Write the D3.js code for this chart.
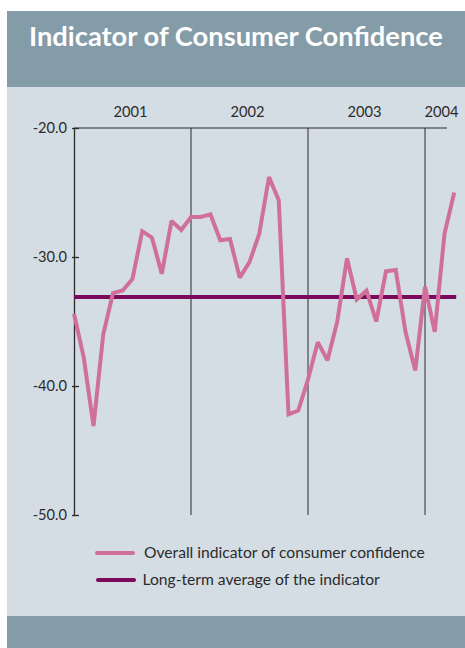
<!DOCTYPE html>
<html>
<head>
<meta charset="utf-8">
<script src="https://cdn.jsdelivr.net/npm/d3@7"></script>
<style>
  html, body { margin: 0; padding: 0; background: #ffffff; }
  svg { display: block; }
</style>
</head>
<body>
<svg id="chart" width="465" height="648"></svg>
<script>
// Monthly index values, January 2001 through April 2004
const months = d3.range(40);
const confidence = [
  -34.4, -37.8, -43.1, -36.0, -32.8, -32.6, -31.7, -28.0, -28.5, -31.3, -27.2, -27.9,
  -26.9, -26.9, -26.7, -28.7, -28.6, -31.6, -30.4, -28.2, -23.8, -25.6, -42.2, -41.9,
  -39.5, -36.6, -38.0, -35.0, -30.1, -33.3, -32.6, -35.0, -31.1, -31.0, -35.8, -38.8,
  -32.3, -35.8, -28.2, -25.0
];
const longTermAverage = -33.1;
const years = ["2001", "2002", "2003", "2004"];
const yTicks = [-20, -30, -40, -50];
const titleText = "Indicator of Consumer Confidence";
const legendLabels = ["Overall indicator of consumer confidence", "Long-term average of the indicator"];

const pink = "#d0709a";
const purple = "#7b0a5c";
const ink = "#2b2b2b";
const font = "Lato, 'Open Sans', sans-serif";

const svg = d3.select("#chart");

// Scale a text element's font size so it spans the given width
function fitWidth(sel, base, width) {
  sel.attr("font-size", base);
  const w = sel.node().getComputedTextLength();
  sel.attr("font-size", base * width / w);
  return base * width / w;
}

// Panel background and bands
svg.append("rect").attr("x", 7).attr("y", 11).attr("width", 458).attr("height", 637).attr("fill", "#d4dde4");
svg.append("rect").attr("x", 7).attr("y", 11).attr("width", 458).attr("height", 76).attr("fill", "#849ba8");
svg.append("rect").attr("x", 7).attr("y", 616).attr("width", 458).attr("height", 32).attr("fill", "#849ba8");

// Title, sized to span the header
const title = svg.append("text")
  .attr("x", 29).attr("y", 46)
  .attr("fill", "#ffffff")
  .attr("font-family", font)
  .attr("font-weight", 700)
  .text(titleText);
fitWidth(title, 25, 414);

// Scales
const x = d3.scaleLinear().domain([0, 36]).range([74, 425]);
const y = d3.scaleLinear().domain([-50, -20]).range([515, 128]);

const g = svg.append("g");

// Year separators and top rule
const yearStarts = years.map((_, i) => i * 12);
g.selectAll("line.year").data(yearStarts.slice(1)).join("line")
  .attr("class", "year")
  .attr("x1", d => x(d)).attr("x2", d => x(d))
  .attr("y1", y(-20)).attr("y2", y(-50))
  .attr("stroke", ink).attr("stroke-width", 1);
g.append("line")
  .attr("x1", x(0)).attr("x2", x(38.25))
  .attr("y1", y(-20)).attr("y2", y(-20))
  .attr("stroke", ink).attr("stroke-width", 1.2);

// Year labels
const yearLabels = g.selectAll("text.year").data(years).join("text")
  .attr("class", "year")
  .attr("x", (d, i) => i < 3 ? x(i * 12 + 5.8) : x(i * 12) - 0.5)
  .attr("y", 117)
  .attr("text-anchor", (d, i) => i < 3 ? "middle" : "start")
  .attr("font-family", font).attr("fill", ink)
  .text(d => d);
const yearSize = fitWidth(yearLabels.filter((d, i) => i === 0), 14.5, 34);
yearLabels.attr("font-size", yearSize);

// Y axis
const yAxis = d3.axisLeft(y).tickValues(yTicks).tickFormat(d3.format(".1f")).tickSize(0).tickPadding(7);
const ax = g.append("g").attr("transform", `translate(${x(0)},0)`).call(yAxis);
ax.select(".domain").attr("stroke", ink).attr("stroke-width", 1.3);
ax.selectAll(".tick text")
  .attr("font-family", font).attr("font-size", yearSize).attr("fill", ink)
  .text(d => d3.format(".1f")(d).replace("−", "-"));
ax.selectAll(".tick").append("line")
  .attr("x1", -2).attr("x2", 5).attr("stroke", ink).attr("stroke-width", 1.3);

// Long-term average
g.append("line")
  .attr("x1", x(0)).attr("x2", x(39.2))
  .attr("y1", y(longTermAverage)).attr("y2", y(longTermAverage))
  .attr("stroke", purple).attr("stroke-width", 4);

// Confidence indicator
const line = d3.line().x((d, i) => x(months[i])).y(d => y(d));
g.append("path").datum(confidence)
  .attr("d", line)
  .attr("fill", "none")
  .attr("stroke", pink).attr("stroke-width", 4)
  .attr("stroke-linejoin", "miter").attr("stroke-miterlimit", 2);

// Legend
const legend = svg.append("g");
const legendRows = [
  { label: legendLabels[0], color: pink, y: 553, x1: 97, x2: 133, tx: 144 },
  { label: legendLabels[1], color: purple, y: 580, x1: 98, x2: 134, tx: 142.5 }
];
const legendTexts = legendRows.map(r => {
  legend.append("line")
    .attr("x1", r.x1).attr("x2", r.x2).attr("y1", r.y).attr("y2", r.y)
    .attr("stroke", r.color).attr("stroke-width", 4).attr("stroke-linecap", "round");
  return legend.append("text")
    .attr("x", r.tx).attr("y", r.y + 5)
    .attr("font-family", font).attr("fill", ink)
    .text(r.label);
});
const legendSize = fitWidth(legendTexts[0], 14.5, 281);
legendTexts[1].attr("font-size", legendSize);
</script>
</body>
</html>
